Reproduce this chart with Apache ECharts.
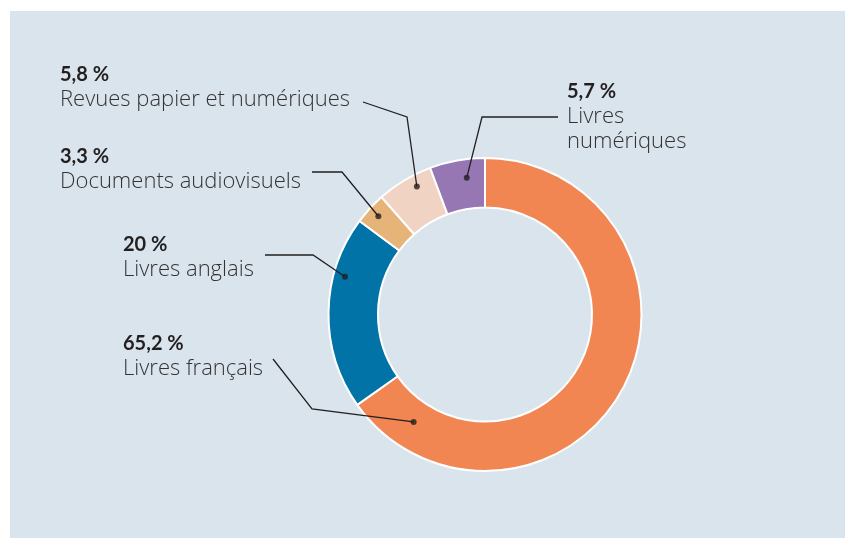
<!DOCTYPE html>
<html>
<head>
<meta charset="utf-8">
<script src="https://cdn.jsdelivr.net/npm/echarts@6/dist/echarts.min.js"></script>
<style>
  html, body { margin: 0; padding: 0; background: #fff; }
  #wrap { position: relative; width: 845px; height: 538px; }
  #panel { position: absolute; left: 10px; top: 11px; right: 0; bottom: 0; background: #dae4ed; }
  #container { position: absolute; left: 0; top: 0; width: 845px; height: 538px; }
</style>
</head>
<body>
<div id="wrap"><div id="panel"></div><div id="container"></div></div>
<script>
// data
var categories = ['Livres français', 'Livres anglais', 'Documents audiovisuels', 'Revues papier et numériques', 'Livres\nnumériques'];
var shares = [65.2, 20, 3.3, 5.8, 5.7];
var colors = ['#f28653', '#0173a7', '#e6b478', '#f0d3c3', '#9677b4'];

// layout of the call-outs (label top-left, line end, elbow, where the dot sits in the slice)
var labelPos = [[123, 331], [123, 232], [60, 144], [60, 62], [567, 79]];
var lineEnd = [[273, 359], [265, 255], [312, 172], [363, 102], [558, 117]];
var lineElbow = [[312, 409], [313, 255], [342, 172], [407, 117], [482, 117]];
var dotFrac = [0.91, 0.7, 0.5, 0.64, 0.63];
var dotRadius = [129, 145, 145, 145, 138];

var cx = 485, cy = 314.5, rOut = 156.5, rIn = 107;

var total = shares.reduce(function (a, b) { return a + b; }, 0);
var dotAngle = [];
var acc = 0;
for (var i = 0; i < shares.length; i++) {
    dotAngle.push((acc + shares[i] * dotFrac[i]) / total * 100);
    acc += shares[i];
}
function dotPixel(i) {
    var a = (90 - dotAngle[i] * 3.6) * Math.PI / 180;
    return [cx + dotRadius[i] * Math.cos(a), cy - dotRadius[i] * Math.sin(a)];
}

var dom = document.getElementById('container');
var myChart = echarts.init(dom);

var pieData = [];
for (var i = 0; i < categories.length; i++) {
    pieData.push({ name: categories[i], value: shares[i], itemStyle: { color: colors[i] } });
}
var dotData = [];
for (var i = 0; i < categories.length; i++) {
    dotData.push([dotRadius[i], dotAngle[i]]);
}
// leader lines, drawn over the ring
var leaders = [];
for (var i = 0; i < categories.length; i++) {
    leaders.push({
        type: 'polyline',
        z: 10,
        silent: true,
        shape: { points: [dotPixel(i), lineElbow[i], lineEnd[i]] },
        style: { stroke: '#231f20', lineWidth: 1.3, fill: null }
    });
}

var option = {
    animation: false,
    graphic: leaders,
    polar: { center: [cx, cy], radius: rOut },
    angleAxis: { type: 'value', min: 0, max: 100, startAngle: 90, clockwise: true, show: false },
    radiusAxis: { type: 'value', min: 0, max: rOut, show: false },
    series: [{
        type: 'pie',
        center: [cx, cy],
        radius: [rIn, rOut],
        startAngle: 90,
        clockwise: true,
        avoidLabelOverlap: false,
        itemStyle: { borderColor: '#ffffff', borderWidth: 2 },
        emphasis: { disabled: true },
        data: pieData,
        label: {
            show: true,
            position: 'outside',
            formatter: function (p) {
                return '{p|' + String(p.value).replace('.', ',') + ' %}\n{n|' + p.name.replace('\n', '}\n{n|') + '}';
            },
            rich: {
                p: { fontFamily: 'Lato', fontWeight: 'bold', fontSize: 20, lineHeight: 25, color: '#231f20' },
                n: { fontFamily: 'Open Sans', fontWeight: 300, fontSize: 22, lineHeight: 25, color: '#333333' }
            }
        },
        labelLine: { show: false },
        labelLayout: function (params) {
            var i = params.dataIndex;
            return {
                x: labelPos[i][0],
                y: labelPos[i][1],
                align: 'left',
                verticalAlign: 'top'
            };
        }
    }, {
        type: 'scatter',
        coordinateSystem: 'polar',
        symbolSize: 6,
        itemStyle: { color: '#231f20' },
        z: 5,
        silent: true,
        data: dotData
    }]
};

if (option && typeof option === 'object') {
    myChart.setOption(option);
}
</script>
</body>
</html>
